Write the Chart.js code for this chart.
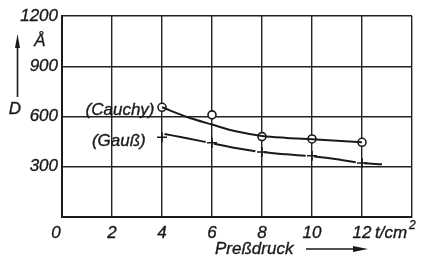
<!DOCTYPE html>
<html>
<head>
<meta charset="utf-8">
<script src="https://cdn.jsdelivr.net/npm/chart.js@4/dist/chart.umd.min.js"></script>
<style>
  html, body { margin: 0; padding: 0; background: #fff; }
  #wrap { width: 424px; height: 256px; }
</style>
</head>
<body>
<div id="wrap"><canvas id="ch" width="424" height="256"></canvas></div>
<script>
// ── Daten ──
const pressure   = [4, 6, 8, 10, 12];
const cauchyPts  = [655, 610, 480, 466, 446];
const gaussPts   = [476, 443, 388, 366, 322];

// Ausgleichskurven
const cauchyCurveX = [4, 5, 6, 7, 8, 9, 10, 11, 12];
const cauchyCurveY = [655, 597, 552, 510, 484, 472, 464, 455, 447];
const gaussCurveX  = [4.1, 5, 6, 7, 8, 9, 10, 11, 12, 12.8];
const gaussCurveY  = [496, 470, 440, 410, 388, 374, 362, 345, 322, 315];

const xTicks = [0, 2, 4, 6, 8, 10, 12];
const yTicks = [300, 600, 900, 1200];

const FONT = "italic 17px 'Liberation Sans', Arial, sans-serif";
const INK  = '#1a1a1a';

const toXY = (xs, ys) => xs.map((x, i) => ({ x: x, y: ys[i] }));

// Text etwas kräftiger (wie im Original)
function txt(c, s, x, y) {
  c.fillText(s, x, y);
  c.lineWidth = 0.35;
  c.strokeText(s, x, y);
}

// ── Beschriftungen (Achsen, Einheiten, Kurvennamen) ──
const labelsPlugin = {
  id: 'labels',
  afterDraw(chart) {
    const c = chart.ctx;
    const sx = chart.scales.x, sy = chart.scales.y;
    c.save();
    c.fillStyle = INK; c.strokeStyle = INK;
    c.font = FONT;
    c.textBaseline = 'middle';

    // y-Ticks
    c.textAlign = 'right';
    yTicks.forEach(v => txt(c, String(v), sx.left - 4, sy.getPixelForValue(v)));

    // x-Ticks
    c.textAlign = 'center';
    xTicks.forEach(v => txt(c, String(v), sx.getPixelForValue(v) + (v === 0 ? -6 : 0), sy.bottom + 16));

    // Einheit t/cm²
    c.textAlign = 'left';
    const ux = sx.getPixelForValue(12) + 13, uy = sy.bottom + 16;
    txt(c, 't/cm', ux, uy);
    const uw = c.measureText('t/cm').width;
    c.font = "italic 12px 'Liberation Sans', Arial, sans-serif";
    txt(c, '2', ux + uw + 2, uy - 7);
    c.font = FONT;

    // Preßdruck + Pfeil
    c.textAlign = 'left';
    txt(c, 'Preßdruck', 215, sy.bottom + 32);
    c.lineWidth = 1.6;
    c.beginPath(); c.moveTo(306, sy.bottom + 32); c.lineTo(358, sy.bottom + 32); c.stroke();
    c.beginPath(); c.moveTo(368, sy.bottom + 32); c.lineTo(353, sy.bottom + 29); c.lineTo(353, sy.bottom + 35); c.closePath(); c.fill();

    // D-Achse: Pfeil, Å, D
    c.lineWidth = 1.6;
    c.beginPath(); c.moveTo(17.5, 97); c.lineTo(17.5, 44); c.stroke();
    c.beginPath(); c.moveTo(17.5, 34); c.lineTo(15, 48); c.lineTo(20, 48); c.closePath(); c.fill();
    c.textAlign = 'center';
    txt(c, 'Å', 40, 41);
    txt(c, 'D', 15, 109);

    // Kurvennamen
    c.textAlign = 'right';
    txt(c, '(Cauchy)', sx.getPixelForValue(3.7), sy.getPixelForValue(640));
    txt(c, '(Gauß)', sx.getPixelForValue(3.35), sy.getPixelForValue(450));
    c.restore();
  }
};

new Chart(document.getElementById('ch').getContext('2d'), {
  type: 'scatter',
  data: {
    datasets: [
      { data: toXY(cauchyCurveX, cauchyCurveY), showLine: true, borderColor: INK, borderWidth: 2,
        pointRadius: 0, cubicInterpolationMode: 'monotone', fill: false },
      { data: toXY(gaussCurveX, gaussCurveY), showLine: true, borderColor: INK, borderWidth: 2,
        borderDash: [42, 8.5], pointRadius: 0, cubicInterpolationMode: 'monotone', fill: false },
      { data: toXY(pressure, cauchyPts), showLine: false, pointStyle: 'circle', pointRadius: 4,
        pointBackgroundColor: '#fff', pointBorderColor: INK, pointBorderWidth: 1.6 },
      { data: toXY(pressure, gaussPts), showLine: false, pointStyle: 'cross', pointRadius: 5,
        pointBorderColor: INK, pointBorderWidth: 1.6 }
    ]
  },
  plugins: [labelsPlugin],
  options: {
    responsive: false, animation: false, devicePixelRatio: 1,
    layout: { padding: { left: 62, top: 16, right: 12, bottom: 39 } },
    plugins: { legend: { display: false }, tooltip: { enabled: false } },
    scales: {
      x: { type: 'linear', min: 0, max: 14,
        ticks: { display: false, stepSize: 2 },
        grid: { color: '#222', lineWidth: 1.4, drawTicks: false },
        border: { color: INK, width: 2 } },
      y: { type: 'linear', min: 0, max: 1200,
        ticks: { display: false, stepSize: 300 },
        grid: { color: '#222', lineWidth: 1.4, drawTicks: false },
        border: { color: INK, width: 2 } }
    }
  }
});
</script>
</body>
</html>
